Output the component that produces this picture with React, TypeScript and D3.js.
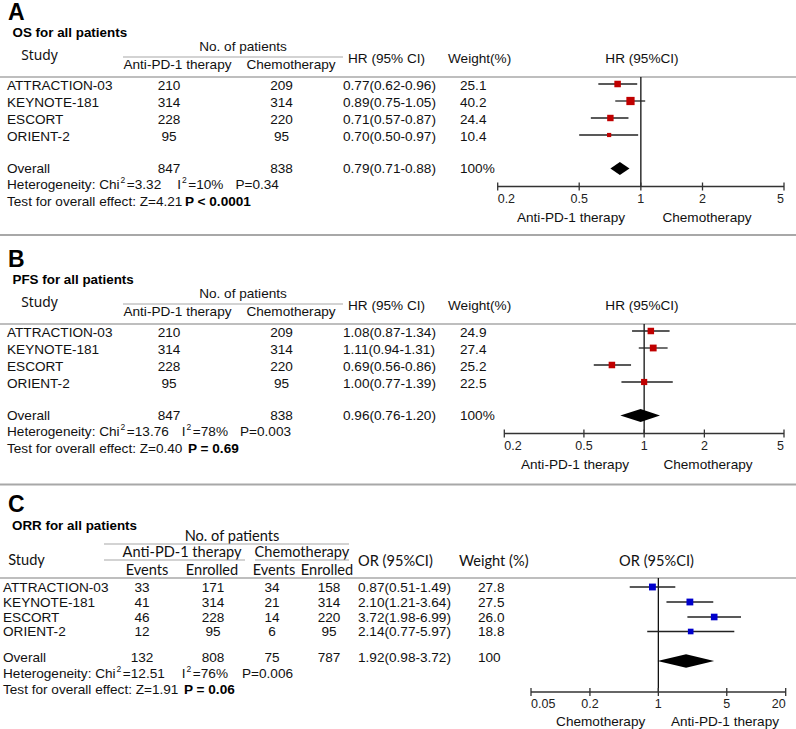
import React from "react";
import * as d3 from "d3";

// ---------- data ----------
const studies = ["ATTRACTION-03", "KEYNOTE-181", "ESCORT", "ORIENT-2"];

// OS
const osAnti = [210, 314, 228, 95];
const osChemo = [209, 314, 220, 95];
const osHR = [0.77, 0.89, 0.71, 0.7];
const osLo = [0.62, 0.75, 0.57, 0.5];
const osHi = [0.96, 1.05, 0.87, 0.97];
const osWeight = [25.1, 40.2, 24.4, 10.4];
const osOverall = { anti: 847, chemo: 838, est: 0.79, lo: 0.71, hi: 0.88, w: "100%" };
const osHet = { chi: "3.32", i2: "10%", p: "0.34", z: "4.21", pOverall: "P < 0.0001" };

// PFS
const pfsAnti = [210, 314, 228, 95];
const pfsChemo = [209, 314, 220, 95];
const pfsHR = [1.08, 1.11, 0.69, 1.0];
const pfsLo = [0.87, 0.94, 0.56, 0.77];
const pfsHi = [1.34, 1.31, 0.86, 1.39];
const pfsWeight = [24.9, 27.4, 25.2, 22.5];
const pfsOverall = { anti: 847, chemo: 838, est: 0.96, lo: 0.76, hi: 1.2, w: "100%" };
const pfsHet = { chi: "13.76", i2: "78%", p: "0.003", z: "0.40", pOverall: "P = 0.69" };

// ORR
const orrAntiEvents = [33, 41, 46, 12];
const orrAntiEnrolled = [171, 314, 228, 95];
const orrChemoEvents = [34, 21, 14, 6];
const orrChemoEnrolled = [158, 314, 220, 95];
const orrOR = [0.87, 2.1, 3.72, 2.14];
const orrLo = [0.51, 1.21, 1.98, 0.77];
const orrHi = [1.49, 3.64, 6.99, 5.97];
const orrWeight = [27.8, 27.5, 26.0, 18.8];
const orrOverall = { ae: 132, an: 808, ce: 75, cn: 787, est: 1.92, lo: 0.98, hi: 3.72, w: "100" };
const orrHet = { chi: "12.51", i2: "76%", p: "0.006", z: "1.91", pOverall: "P = 0.06" };

const hrTicks = [0.2, 0.5, 1, 2, 5];
const orTicks = [0.05, 0.2, 1, 5, 20];

// ---------- styles ----------
const ARIAL = "'Liberation Sans', Arial, Helvetica, sans-serif";
const CAL = "Lato, 'Open Sans', sans-serif";
const STUDY = "'Noto Sans', 'Open Sans', sans-serif";
const TXT = "#111";
const GRAY = "#a8a8a8";
const FS = 13.6;

const f2 = (v: number) => v.toFixed(2);
const ciText = (e: number, l: number, h: number) => `${f2(e)}(${f2(l)}-${f2(h)})`;

function Axis({ scale, ticks, y, fmt }: any) {
  const [x0, x1] = scale.range();
  return (
    <g>
      <line x1={x0} x2={x1} y1={y} y2={y} stroke="#333" strokeWidth={1.3} />
      {ticks.map((t: number, i: number) => (
        <g key={i}>
          <line x1={scale(t)} x2={scale(t)} y1={y - 4} y2={y + 4} stroke="#333" strokeWidth={1.3} />
          <text
            x={scale(t)}
            y={y + 16}
            fontSize={12.5}
            fill="#222"
            textAnchor={i === 0 ? "start" : i === ticks.length - 1 ? "end" : "middle"}
          >
            {fmt(t)}
          </text>
        </g>
      ))}
    </g>
  );
}

function Het({ x, y, het, gaps }: any) {
  // gaps: [gap before I, gap before P]
  return (
    <text x={x} y={y} fontSize={FS} fill={TXT}>
      <tspan>Heterogeneity: Chi</tspan>
      <tspan fontSize={8.5} dy={-5.5} dx={1}>2</tspan>
      <tspan dy={5.5} dx={1.5}>={het.chi}</tspan>
      <tspan dx={gaps[0]}>I</tspan>
      <tspan fontSize={8.5} dy={-5.5} dx={1}>2</tspan>
      <tspan dy={5.5} dx={1.5}>={het.i2}</tspan>
      <tspan dx={gaps[1]}>P={het.p}</tspan>
    </text>
  );
}

function HRPanel({ y0, letter, title, anti, chemo, est, lo, hi, wt, ov, het, range, gaps, pX, dirX }: any) {
  const x = d3.scaleLog().domain([0.2, 5]).range(range);
  const rowC = [85, 102, 119, 136].map((v) => v + y0);
  const ovC = 168 + y0;
  const axisY = 186.5 + y0;
  return (
    <g>
      <text x={8} y={y0 + 19.5} fontSize={23} fontWeight="bold" fill="#000">{letter}</text>
      <text x={12.5} y={y0 + 36.5} fontSize={13.4} fontWeight="bold" fill="#000">{title}</text>
      <text x={39.5} y={y0 + 60} fontSize={13.8} fontFamily={STUDY} textAnchor="middle" fill={TXT}>Study</text>
      <text x={243} y={y0 + 51} fontSize={FS} textAnchor="middle" fill={TXT}>No. of patients</text>
      <line x1={123} x2={343} y1={y0 + 57} y2={y0 + 57} stroke={GRAY} strokeWidth={1.2} />
      <text x={177.5} y={y0 + 68.5} fontSize={FS} textAnchor="middle" fill={TXT}>Anti-PD-1 therapy</text>
      <text x={291} y={y0 + 68.5} fontSize={FS} textAnchor="middle" fill={TXT}>Chemotherapy</text>
      <text x={348} y={y0 + 62.5} fontSize={FS} fill={TXT}>HR (95% CI)</text>
      <text x={448} y={y0 + 62.5} fontSize={FS} fill={TXT}>Weight(%)</text>
      <text x={642} y={y0 + 62.5} fontSize={FS} textAnchor="middle" fill={TXT}>HR (95%CI)</text>
      <line x1={0} x2={796} y1={y0 + 77} y2={y0 + 77} stroke={GRAY} strokeWidth={1.3} />

      {studies.map((s, i) => (
        <g key={s} fontSize={FS} fill={TXT}>
          <text x={7} y={rowC[i] + 4.8}>{s}</text>
          <text x={169} y={rowC[i] + 4.8} textAnchor="middle">{anti[i]}</text>
          <text x={281.5} y={rowC[i] + 4.8} textAnchor="middle">{chemo[i]}</text>
          <text x={343} y={rowC[i] + 4.8}>{ciText(est[i], lo[i], hi[i])}</text>
          <text x={460} y={rowC[i] + 4.8}>{wt[i].toFixed(1)}</text>
        </g>
      ))}
      <g fontSize={FS} fill={TXT}>
        <text x={7} y={ovC + 4.8}>Overall</text>
        <text x={169} y={ovC + 4.8} textAnchor="middle">{ov.anti}</text>
        <text x={281.5} y={ovC + 4.8} textAnchor="middle">{ov.chemo}</text>
        <text x={343} y={ovC + 4.8}>{ciText(ov.est, ov.lo, ov.hi)}</text>
        <text x={460} y={ovC + 4.8}>{ov.w}</text>
      </g>
      <Het x={7} y={y0 + 188.5} het={het} gaps={gaps} />
      <text x={7} y={y0 + 205.5} fontSize={FS} fill={TXT}>
        Test for overall effect: Z={het.z}
      </text>
      <text x={pX} y={y0 + 205.5} fontSize={FS} fontWeight="bold" fill="#000">{het.pOverall}</text>

      {/* forest */}
      <line x1={x(1)} x2={x(1)} y1={y0 + 77} y2={axisY} stroke="#111" strokeWidth={1.3} />
      {studies.map((s, i) => {
        const sz = 1.3 * Math.sqrt(wt[i]);
        return (
          <g key={s}>
            <line x1={x(lo[i])} x2={x(hi[i])} y1={rowC[i] - 1} y2={rowC[i] - 1} stroke="#222" strokeWidth={1.3} />
            <rect x={x(est[i]) - sz / 2} y={rowC[i] - 1 - sz / 2} width={sz} height={sz} fill="#c00000" />
          </g>
        );
      })}
      <path
        d={`M${x(ov.lo)},${ovC + 0.5}L${x(ov.est)},${ovC - 6}L${x(ov.hi)},${ovC + 0.5}L${x(ov.est)},${ovC + 7}Z`}
        fill="#000"
      />
      <Axis scale={x} ticks={hrTicks} y={axisY} fmt={(t: number) => String(t)} />
      <text x={dirX[0]} y={y0 + 222} fontSize={FS} textAnchor="middle" fill={TXT}>Anti-PD-1 therapy</text>
      <text x={dirX[1]} y={y0 + 222} fontSize={FS} textAnchor="middle" fill={TXT}>Chemotherapy</text>
    </g>
  );
}

function ORRPanel() {
  const x = d3.scaleLog().domain([0.05, 20]).range([531, 785.7]);
  const rowC = [587, 602, 617, 631.5];
  const ovC = 657.5;
  const dC = 661;
  const axisY = 692;
  return (
    <g>
      <text x={8} y={512} fontSize={23} fontWeight="bold" fill="#000">C</text>
      <text x={12} y={530} fontSize={13.4} fontWeight="bold" fill="#000">ORR for all patients</text>
      <g fontFamily={CAL} fontSize={14.6} fill={TXT}>
        <text x={232} y={540.5} textAnchor="middle">No. of patients</text>
        <text x={182} y={556.5} textAnchor="middle">Anti-PD-1 therapy</text>
        <text x={302} y={556.5} textAnchor="middle">Chemotherapy</text>
        <text x={26.5} y={565} textAnchor="middle">Study</text>
        <text x={147} y={575} textAnchor="middle">Events</text>
        <text x={212} y={575} textAnchor="middle">Enrolled</text>
        <text x={274} y={575} textAnchor="middle">Events</text>
        <text x={327} y={575} textAnchor="middle">Enrolled</text>
        <text x={358} y={566}>OR (95%CI)</text>
        <text x={459} y={566}>Weight (%)</text>
        <text x={656.5} y={566} textAnchor="middle">OR (95%CI)</text>
      </g>
      <line x1={104} x2={349} y1={544} y2={544} stroke={GRAY} strokeWidth={1.2} />
      <line x1={104} x2={245} y1={560} y2={560} stroke={GRAY} strokeWidth={1.2} />
      <line x1={255} x2={349} y1={560} y2={560} stroke={GRAY} strokeWidth={1.2} />
      <line x1={0} x2={796} y1={578} y2={578} stroke={GRAY} strokeWidth={1.3} />

      {studies.map((s, i) => (
        <g key={s} fontSize={FS} fill={TXT}>
          <text x={3} y={rowC[i] + 4.8}>{s}</text>
          <text x={142} y={rowC[i] + 4.8} textAnchor="middle">{orrAntiEvents[i]}</text>
          <text x={213} y={rowC[i] + 4.8} textAnchor="middle">{orrAntiEnrolled[i]}</text>
          <text x={272} y={rowC[i] + 4.8} textAnchor="middle">{orrChemoEvents[i]}</text>
          <text x={329} y={rowC[i] + 4.8} textAnchor="middle">{orrChemoEnrolled[i]}</text>
          <text x={358} y={rowC[i] + 4.8}>{ciText(orrOR[i], orrLo[i], orrHi[i])}</text>
          <text x={478} y={rowC[i] + 4.8}>{orrWeight[i].toFixed(1)}</text>
        </g>
      ))}
      <g fontSize={FS} fill={TXT}>
        <text x={3} y={ovC + 4.8}>Overall</text>
        <text x={142} y={ovC + 4.8} textAnchor="middle">{orrOverall.ae}</text>
        <text x={213} y={ovC + 4.8} textAnchor="middle">{orrOverall.an}</text>
        <text x={272} y={ovC + 4.8} textAnchor="middle">{orrOverall.ce}</text>
        <text x={329} y={ovC + 4.8} textAnchor="middle">{orrOverall.cn}</text>
        <text x={358} y={ovC + 4.8}>{ciText(orrOverall.est, orrOverall.lo, orrOverall.hi)}</text>
        <text x={478} y={ovC + 4.8}>{orrOverall.w}</text>
      </g>
      <Het x={3} y={677.5} het={orrHet} gaps={[17, 14]} />
      <text x={3} y={693.5} fontSize={FS} fill={TXT}>Test for overall effect: Z={orrHet.z}</text>
      <text x={184} y={693.5} fontSize={FS} fontWeight="bold" fill="#000">{orrHet.pOverall}</text>

      <line x1={x(1)} x2={x(1)} y1={578} y2={axisY} stroke="#111" strokeWidth={1.3} />
      {studies.map((s, i) => {
        const sz = 1.3 * Math.sqrt(orrWeight[i]);
        return (
          <g key={s}>
            <line x1={x(orrLo[i])} x2={x(orrHi[i])} y1={rowC[i]} y2={rowC[i]} stroke="#222" strokeWidth={1.3} />
            <rect x={x(orrOR[i]) - sz / 2} y={rowC[i] - sz / 2} width={sz} height={sz} fill="#0000cc" />
          </g>
        );
      })}
      <path
        d={`M${x(orrOverall.lo)},${dC}L${x(orrOverall.est)},${dC - 6.7}L${x(orrOverall.hi)},${dC}L${x(orrOverall.est)},${dC + 6.7}Z`}
        fill="#000"
      />
      <Axis scale={x} ticks={orTicks} y={axisY} fmt={(t: number) => String(t)} />
      <text x={600.7} y={726} fontSize={FS} textAnchor="middle" fill={TXT}>Chemotherapy</text>
      <text x={725} y={726} fontSize={FS} textAnchor="middle" fill={TXT}>Anti-PD-1 therapy</text>
    </g>
  );
}

export default function App() {
  return (
    <svg
      width={796}
      height={729}
      style={{ position: "absolute", left: 0, top: 0, background: "#fff" }}
      fontFamily={ARIAL}
    >
      <rect width={796} height={729} fill="#fff" />
      <HRPanel
        y0={0}
        letter="A"
        title="OS for all patients"
        anti={osAnti}
        chemo={osChemo}
        est={osHR}
        lo={osLo}
        hi={osHi}
        wt={osWeight}
        ov={osOverall}
        het={osHet}
        range={[497.7, 784]}
        gaps={[16, 12]}
        pX={185}
        dirX={[571, 707]}
      />
      <line x1={0} x2={796} y1={235} y2={235} stroke={GRAY} strokeWidth={2} />
      <HRPanel
        y0={247}
        letter="B"
        title="PFS for all patients"
        anti={pfsAnti}
        chemo={pfsChemo}
        est={pfsHR}
        lo={pfsLo}
        hi={pfsHi}
        wt={pfsWeight}
        ov={pfsOverall}
        het={pfsHet}
        range={[504.3, 784]}
        gaps={[13, 12]}
        pX={188}
        dirX={[575, 708]}
      />
      <line x1={0} x2={796} y1={484.5} y2={484.5} stroke={GRAY} strokeWidth={2} />
      <ORRPanel />
    </svg>
  );
}
